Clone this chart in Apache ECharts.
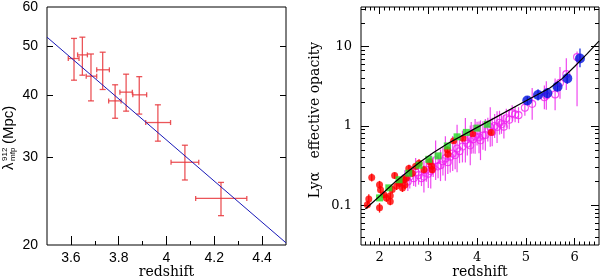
<!DOCTYPE html>
<html><head><meta charset="utf-8">
<script src="https://cdn.jsdelivr.net/npm/echarts@6/dist/echarts.min.js"></script>
<style>html,body{margin:0;padding:0;background:#fff}#c{width:600px;height:280px}</style>
</head><body><div id="c"></div><script>
// ---------- Left panel: mean free path ----------
const mfpZ   = [3.613,3.648,3.684,3.733,3.785,3.831,3.886,3.964,4.077,4.228];
const mfpZlo = [3.589,3.628,3.664,3.708,3.758,3.805,3.859,3.913,4.019,4.122];
const mfpZhi = [3.634,3.669,3.708,3.761,3.810,3.857,3.917,4.017,4.135,4.336];
const mfpVal = [47.3,48.1,43.6,44.9,38.9,40.5,40.0,35.2,29.3,24.8];
const mfpLo  = [42.8,43.8,38.9,41.0,35.9,37.1,36.6,32.3,27.0,22.9];
const mfpHi  = [51.9,52.2,48.3,48.7,41.9,44.0,43.5,38.2,31.7,26.7];
const fitZ   = [3.5, 4.5];
const fitVal = [52.2, 20.2];
const leftXLabels = [3.6, 3.8, 4, 4.2, 4.4];
const leftXMinor  = [3.7, 3.9, 4.1, 4.3];
const leftYLabels = [20, 30, 40, 50, 60];
const leftYTicks  = [30, 40, 50];

// ---------- Right panel: Lya effective opacity ----------
const redZ   = [1.75,1.78,1.84,2.00,2.00,2.02,2.09,2.14,2.22,2.22,2.26,2.31,2.35,2.40,2.43,2.47,2.50,2.52,2.55,2.60,2.67,2.74,2.81,2.91,3.03,3.07,3.08,3.39,3.40,3.52,3.71,3.91,4.29];
const redTau = [0.102,0.120,0.224,0.181,0.093,0.157,0.136,0.124,0.112,0.132,0.158,0.237,0.175,0.19,0.20,0.165,0.21,0.18,0.22,0.29,0.254,0.31,0.34,0.28,0.355,0.31,0.28,0.50,0.44,0.65,0.70,0.80,0.83];
const redErr = [0.05,0.06,0.05,0.05,0.06,0.05,0.04,0.05,0.05,0.04,0.05,0.04,0.05,0.04,0.05,0.05,0.04,0.05,0.04,0.05,0.05,0.04,0.05,0.05,0.04,0.04,0.05,0.04,0.04,0.03,0.03,0.03,0.03];
const greenZ   = [2.00,2.19,2.40,2.60,2.81,3.01,3.20,3.39,3.59,3.78,4.00,4.21];
const greenTau = [0.124,0.166,0.21,0.254,0.32,0.38,0.42,0.56,0.73,0.83,0.94,1.05];
const blueZ   = [5.03,5.25,5.44,5.65,5.85,6.11];
const blueTau = [2.09,2.46,2.58,3.13,3.98,7.08];
const blueLo  = [1.85,2.10,2.20,2.70,3.40,5.50];
const blueHi  = [2.35,2.90,3.00,3.70,4.70,9.50];
const magZ   = [2.45,2.52,2.58,2.62,2.70,2.74,2.80,2.86,2.91,2.96,3.00,3.05,3.10,3.15,3.20,3.25,3.30,3.35,3.40,3.45,3.50,3.55,3.59,3.64,3.70,3.76,3.80,3.86,3.88,3.92,3.96,4.00,4.04,4.07,4.12,4.17,4.22,4.27,4.31,4.36,4.41,4.46,4.50,4.55,4.60,4.66,4.72,4.78,4.85,4.98,5.13,5.38,5.42,5.60,5.70,5.83,6.05];
const magTau = [0.19,0.22,0.20,0.23,0.22,0.26,0.24,0.22,0.23,0.28,0.25,0.27,0.30,0.37,0.31,0.32,0.36,0.39,0.35,0.41,0.45,0.43,0.52,0.48,0.55,0.66,0.60,0.57,0.71,0.68,0.74,0.80,0.72,0.66,0.76,0.77,0.90,0.97,0.84,1.00,0.97,1.10,1.05,0.98,1.25,1.20,1.45,1.40,1.37,1.70,1.90,2.30,2.42,2.50,3.50,4.50,7.40];
const magErrDn = [0.08,0.10,0.12,0.15,0.10,0.18,0.12,0.10,0.20,0.15,0.18,0.22,0.12,0.25,0.15,0.20,0.18,0.28,0.15,0.20,0.22,0.18,0.30,0.15,0.20,0.28,0.15,0.25,0.20,0.18,0.22,0.15,0.20,0.25,0.18,0.20,0.15,0.25,0.18,0.15,0.20,0.15,0.12,0.15,0.12,0.12,0.10,0.10,0.10,0.10,0.20,0.15,0.18,0.20,0.20,0.20,0.62];
const magErrUp = [0.08,0.10,0.12,0.15,0.10,0.18,0.12,0.10,0.20,0.15,0.18,0.22,0.12,0.25,0.15,0.20,0.18,0.28,0.15,0.20,0.22,0.18,0.30,0.15,0.20,0.28,0.15,0.25,0.20,0.18,0.22,0.15,0.20,0.25,0.18,0.20,0.15,0.25,0.18,0.15,0.20,0.15,0.12,0.15,0.12,0.12,0.10,0.10,0.10,0.10,0.20,0.15,0.18,0.20,0.20,0.20,0.07];
const curveZ   = [1.71,2.0,2.33,2.6,2.84,3.1,3.4,3.9,4.4,4.9,5.5,5.75,6.0,6.25,6.5];
const curveTau = [0.090,0.130,0.200,0.272,0.355,0.459,0.603,0.886,1.303,1.916,3.04,3.98,5.62,8.04,11.75];
const rightXLabels = [2, 3, 4, 5, 6];
const rightYLabels = [0.1, 1, 10];
const rightYMinor  = [0.04,0.05,0.06,0.07,0.08,0.09,0.2,0.3,0.4,0.5,0.6,0.7,0.8,0.9,2,3,4,5,6,7,8,9,20,30];

const rightXMinor = [];
for (let i = 17; i <= 64; i++) if (i % 10 !== 0) rightXMinor.push(i / 10);

const SANS = 'Liberation Sans', SERIF = 'DejaVu Serif';

function xAxis(grid, min, max, pos, ticks, len, labels, font, size) {
  return {
    type: 'value', gridIndex: grid, min: min, max: max, position: pos,
    splitLine: {show: false}, axisLine: {show: false},
    axisTick: {show: true, inside: true, length: len, customValues: ticks, lineStyle: {color: '#000', width: 1}},
    axisLabel: labels ? {show: true, customValues: labels, margin: 6, color: '#000', fontFamily: font, fontSize: size, formatter: v => String(v)} : {show: false}
  };
}
function yAxis(grid, type, min, max, pos, ticks, len, labels, font, size, margin) {
  return {
    type: type, gridIndex: grid, min: min, max: max, position: pos, logBase: 10,
    splitLine: {show: false}, axisLine: {show: false},
    axisTick: {show: true, inside: true, length: len, customValues: ticks, lineStyle: {color: '#000', width: 1}},
    axisLabel: labels ? {show: true, customValues: labels, margin: margin, color: '#000', fontFamily: font, fontSize: size, formatter: v => String(v)} : {show: false}
  };
}

const mfpData = mfpZ.map((z, i) => [z, mfpVal[i], mfpZlo[i], mfpZhi[i], mfpLo[i], mfpHi[i]]);
function crossRender(params, api) {
  const x = api.value(0), y = api.value(1);
  const a = api.coord([api.value(2), y]), b = api.coord([api.value(3), y]);
  const d = api.coord([x, api.value(4)]), e = api.coord([x, api.value(5)]);
  const st = {stroke: 'rgba(232,55,60,0.85)', lineWidth: 1.3};
  const L = (x1, y1, x2, y2) => ({type: 'line', shape: {x1, y1, x2, y2}, style: st});
  return {type: 'group', children: [
    L(a[0], a[1], b[0], b[1]), L(d[0], d[1], e[0], e[1]),
    L(a[0], a[1] - 2.5, a[0], a[1] + 2.5), L(b[0], b[1] - 2.5, b[0], b[1] + 2.5),
    L(d[0] - 3, d[1], d[0] + 3, d[1]), L(e[0] - 3, e[1], e[0] + 3, e[1])
  ]};
}
function vbarRender(color, w) {
  return function (params, api) {
    const x = api.value(0);
    const p1 = api.coord([x, api.value(2)]), p2 = api.coord([x, api.value(3)]);
    return {type: 'line', shape: {x1: p1[0], y1: p1[1], x2: p2[0], y2: p2[1]}, style: {stroke: color, lineWidth: w}};
  };
}
const magData = magZ.map((z, i) => [z, magTau[i], magTau[i] / Math.pow(10, magErrDn[i]), magTau[i] * Math.pow(10, magErrUp[i])]);
const redData = redZ.map((z, i) => [z, redTau[i], redTau[i] / Math.pow(10, redErr[i]), redTau[i] * Math.pow(10, redErr[i])]);
const blueData = blueZ.map((z, i) => [z, blueTau[i], blueLo[i], blueHi[i]]);

const chart = echarts.init(document.getElementById('c'), null, {renderer: 'canvas'});
chart.setOption({
  animation: false,
  backgroundColor: '#fff',
  grid: [
    {left: 47, top: 7, width: 239, height: 238, show: true, borderColor: '#000', borderWidth: 1, backgroundColor: 'transparent'},
    {left: 361, top: 7, width: 238, height: 238, show: true, borderColor: '#000', borderWidth: 1, backgroundColor: 'transparent'}
  ],
  xAxis: [
    xAxis(0, 3.5, 4.5, 'bottom', leftXLabels, 9, leftXLabels, SANS, 14),
    xAxis(0, 3.5, 4.5, 'bottom', leftXMinor, 4, null),
    xAxis(1, 1.62, 6.5, 'bottom', rightXLabels, 7, rightXLabels, SERIF, 13),
    xAxis(1, 1.62, 6.5, 'bottom', rightXMinor, 3.5, null),
    xAxis(1, 1.62, 6.5, 'top', rightXLabels, 7, null),
    xAxis(1, 1.62, 6.5, 'top', rightXMinor, 3.5, null)
  ],
  yAxis: [
    yAxis(0, 'log', 20, 60, 'left', leftYTicks, 6, leftYLabels, SANS, 14, 9),
    yAxis(0, 'log', 20, 60, 'right', leftYTicks, 6, null),
    yAxis(1, 'log', 0.0316, 31.6, 'left', rightYLabels, 8, rightYLabels, SERIF, 13, 9),
    yAxis(1, 'log', 0.0316, 31.6, 'left', rightYMinor, 4, null),
    yAxis(1, 'log', 0.0316, 31.6, 'right', rightYLabels, 8, null),
    yAxis(1, 'log', 0.0316, 31.6, 'right', rightYMinor, 4, null)
  ],
  series: [
    {type: 'line', xAxisIndex: 0, yAxisIndex: 0, data: fitZ.map((z, i) => [z, fitVal[i]]), symbol: 'none',
     lineStyle: {color: '#1818b8', width: 1}, silent: true},
    {type: 'custom', xAxisIndex: 0, yAxisIndex: 0, data: mfpData, renderItem: crossRender, encode: {x: 0, y: 1}},

    {type: 'custom', xAxisIndex: 2, yAxisIndex: 2, data: magData, renderItem: vbarRender('rgba(236,40,236,0.85)', 1.2), encode: {x: 0, y: 1}},
    {type: 'scatter', xAxisIndex: 2, yAxisIndex: 2, data: magData.map(d => [d[0], d[1]]), symbol: 'circle', symbolSize: 7,
     itemStyle: {color: 'rgba(255,255,255,0)', borderColor: '#f020f0', borderWidth: 1.1}},
    {type: 'custom', xAxisIndex: 2, yAxisIndex: 2, data: redData, renderItem: vbarRender('#ff1010', 1.3), encode: {x: 0, y: 1}},
    {type: 'scatter', xAxisIndex: 2, yAxisIndex: 2, data: redData.map(d => [d[0], d[1]]), symbolSize: 7, itemStyle: {color: '#ff0000'}},
    {type: 'scatter', xAxisIndex: 2, yAxisIndex: 2, data: greenZ.map((z, i) => [z, greenTau[i]]), symbol: 'rect', symbolSize: 7, itemStyle: {color: '#22dd22'}},
    {type: 'custom', xAxisIndex: 2, yAxisIndex: 2, data: blueData, renderItem: vbarRender('#2030e0', 1.3), encode: {x: 0, y: 1}},
    {type: 'scatter', xAxisIndex: 2, yAxisIndex: 2, data: blueData.map(d => [d[0], d[1]]), symbolSize: 10, itemStyle: {color: '#0010dd'}},
    {type: 'line', xAxisIndex: 2, yAxisIndex: 2, data: curveZ.map((z, i) => [z, curveTau[i]]), symbol: 'none', smooth: false,
     lineStyle: {color: '#000', width: 1.2}, silent: true, z: 5}
  ],
  graphic: [
    {type: 'text', x: 166.5, y: 272, style: {text: 'redshift', fontFamily: SERIF, fontSize: 14, fill: '#000', align: 'center', verticalAlign: 'middle'}},
    {type: 'text', x: 480, y: 272, style: {text: 'redshift', fontFamily: SERIF, fontSize: 14, fill: '#000', align: 'center', verticalAlign: 'middle'}},
    {type: 'text', x: 315, y: 120, rotation: Math.PI / 2,
     style: {text: 'Ly\u03b1   effective opacity', fontFamily: SERIF, fontSize: 14, fill: '#000', align: 'center', verticalAlign: 'middle'}},
    {type: 'group', x: 9, y: 128, rotation: Math.PI / 2, children: [
      {type: 'text', x: -42, y: 0, style: {text: '\u03bb', fontFamily: SANS, fontSize: 15, fill: '#000', align: 'left', verticalAlign: 'middle'}},
      {type: 'text', x: -33, y: -4, style: {text: '912', fontFamily: SANS, fontSize: 8, fill: '#000', align: 'left', verticalAlign: 'middle'}},
      {type: 'text', x: -33, y: 4, style: {text: 'mfp', fontFamily: SANS, fontSize: 8, fill: '#000', align: 'left', verticalAlign: 'middle'}},
      {type: 'text', x: -16, y: 0, style: {text: '(Mpc)', fontFamily: SANS, fontSize: 15, fill: '#000', align: 'left', verticalAlign: 'middle'}}
    ]}
  ]
});
</script></body></html>
